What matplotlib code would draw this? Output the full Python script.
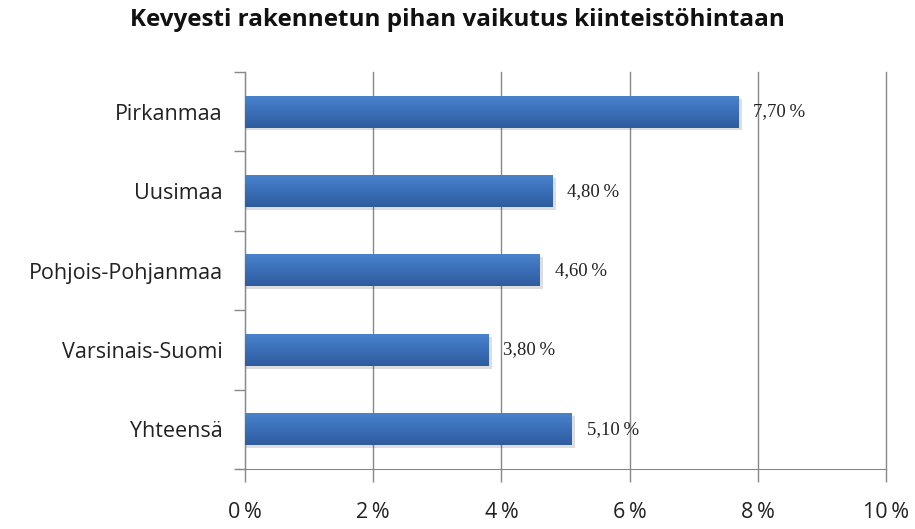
import matplotlib
matplotlib.use("Agg")
import matplotlib.pyplot as plt
import numpy as np
from matplotlib.ticker import FuncFormatter
from matplotlib.colors import LinearSegmentedColormap

categories = ["Pirkanmaa", "Uusimaa", "Pohjois-Pohjanmaa", "Varsinais-Suomi", "Yhteensä"]
values = [7.70, 4.80, 4.60, 3.80, 5.10]
xticks = [0, 2, 4, 6, 8, 10]
title = "Kevyesti rakennetun pihan vaikutus kiinteistöhintaan"

fig = plt.figure(figsize=(9.15, 5.29), dpi=100)
ax = fig.add_axes([0.2678, 0.1134, 0.7005, 0.7505])

n = len(categories)
ypos = np.arange(n)[::-1]
h = 0.4

ax.barh(ypos, values, height=h, color="#3A6DB3", zorder=3)
grad = np.linspace(1, 0, 50).reshape(-1, 1)
cmap = LinearSegmentedColormap.from_list("g", ["#4A82CC", "#3A6FB8", "#2E5C9E"])
for y, v in zip(ypos, values):
    ax.barh(y - 0.035, v + 0.05, height=h, left=0, color="#000000", alpha=0.13, zorder=2)
    ax.imshow(grad, extent=(0, v, y - h / 2, y + h / 2), aspect="auto", cmap=cmap,
              origin="lower", zorder=4, interpolation="bilinear")
    ax.text(v + 0.23, y, f"{v:.2f}".replace(".", ",") + "\u2009%", va="center", ha="left",
            fontsize=13.5, family=["Liberation Serif", "DejaVu Serif"], color="#222222", zorder=5)

ax.set_xlim(0, 10)
ax.set_ylim(-0.5, n - 0.5)
ax.set_xticks(xticks)
ax.xaxis.set_major_formatter(FuncFormatter(lambda x, p: f"{int(x)}\u2009%"))
ax.set_yticks(ypos)
ax.set_yticklabels(categories)
ax.set_yticks(np.arange(-0.5, n, 1.0), minor=True)
ax.tick_params(axis="y", which="major", length=0, pad=16, labelsize=15.5, labelcolor="#222222")
ax.tick_params(axis="y", which="minor", length=8, color="#888888", width=1)
ax.tick_params(axis="x", length=9, color="#888888", width=1, pad=15, labelsize=15.5, labelcolor="#222222")
for lab in ax.get_yticklabels() + ax.get_xticklabels():
    lab.set_family(["Open Sans", "DejaVu Sans"])

ax.grid(axis="x", color="#888888", linewidth=1, zorder=0)
for gl in ax.get_xgridlines():
    gl.set_clip_on(False)
ax.set_axisbelow(True)
for s in ["top", "right"]:
    ax.spines[s].set_visible(False)
for s in ["left", "bottom"]:
    ax.spines[s].set_color("#888888")
ax.spines["bottom"].set_bounds(-0.12, 10)

fig.text(0.5, 0.962, title, ha="center", va="center", fontsize=17.5, fontweight="bold",
         family=["Open Sans", "DejaVu Sans"], color="#111111")

fig.savefig("out.png", dpi=100, facecolor="white")
